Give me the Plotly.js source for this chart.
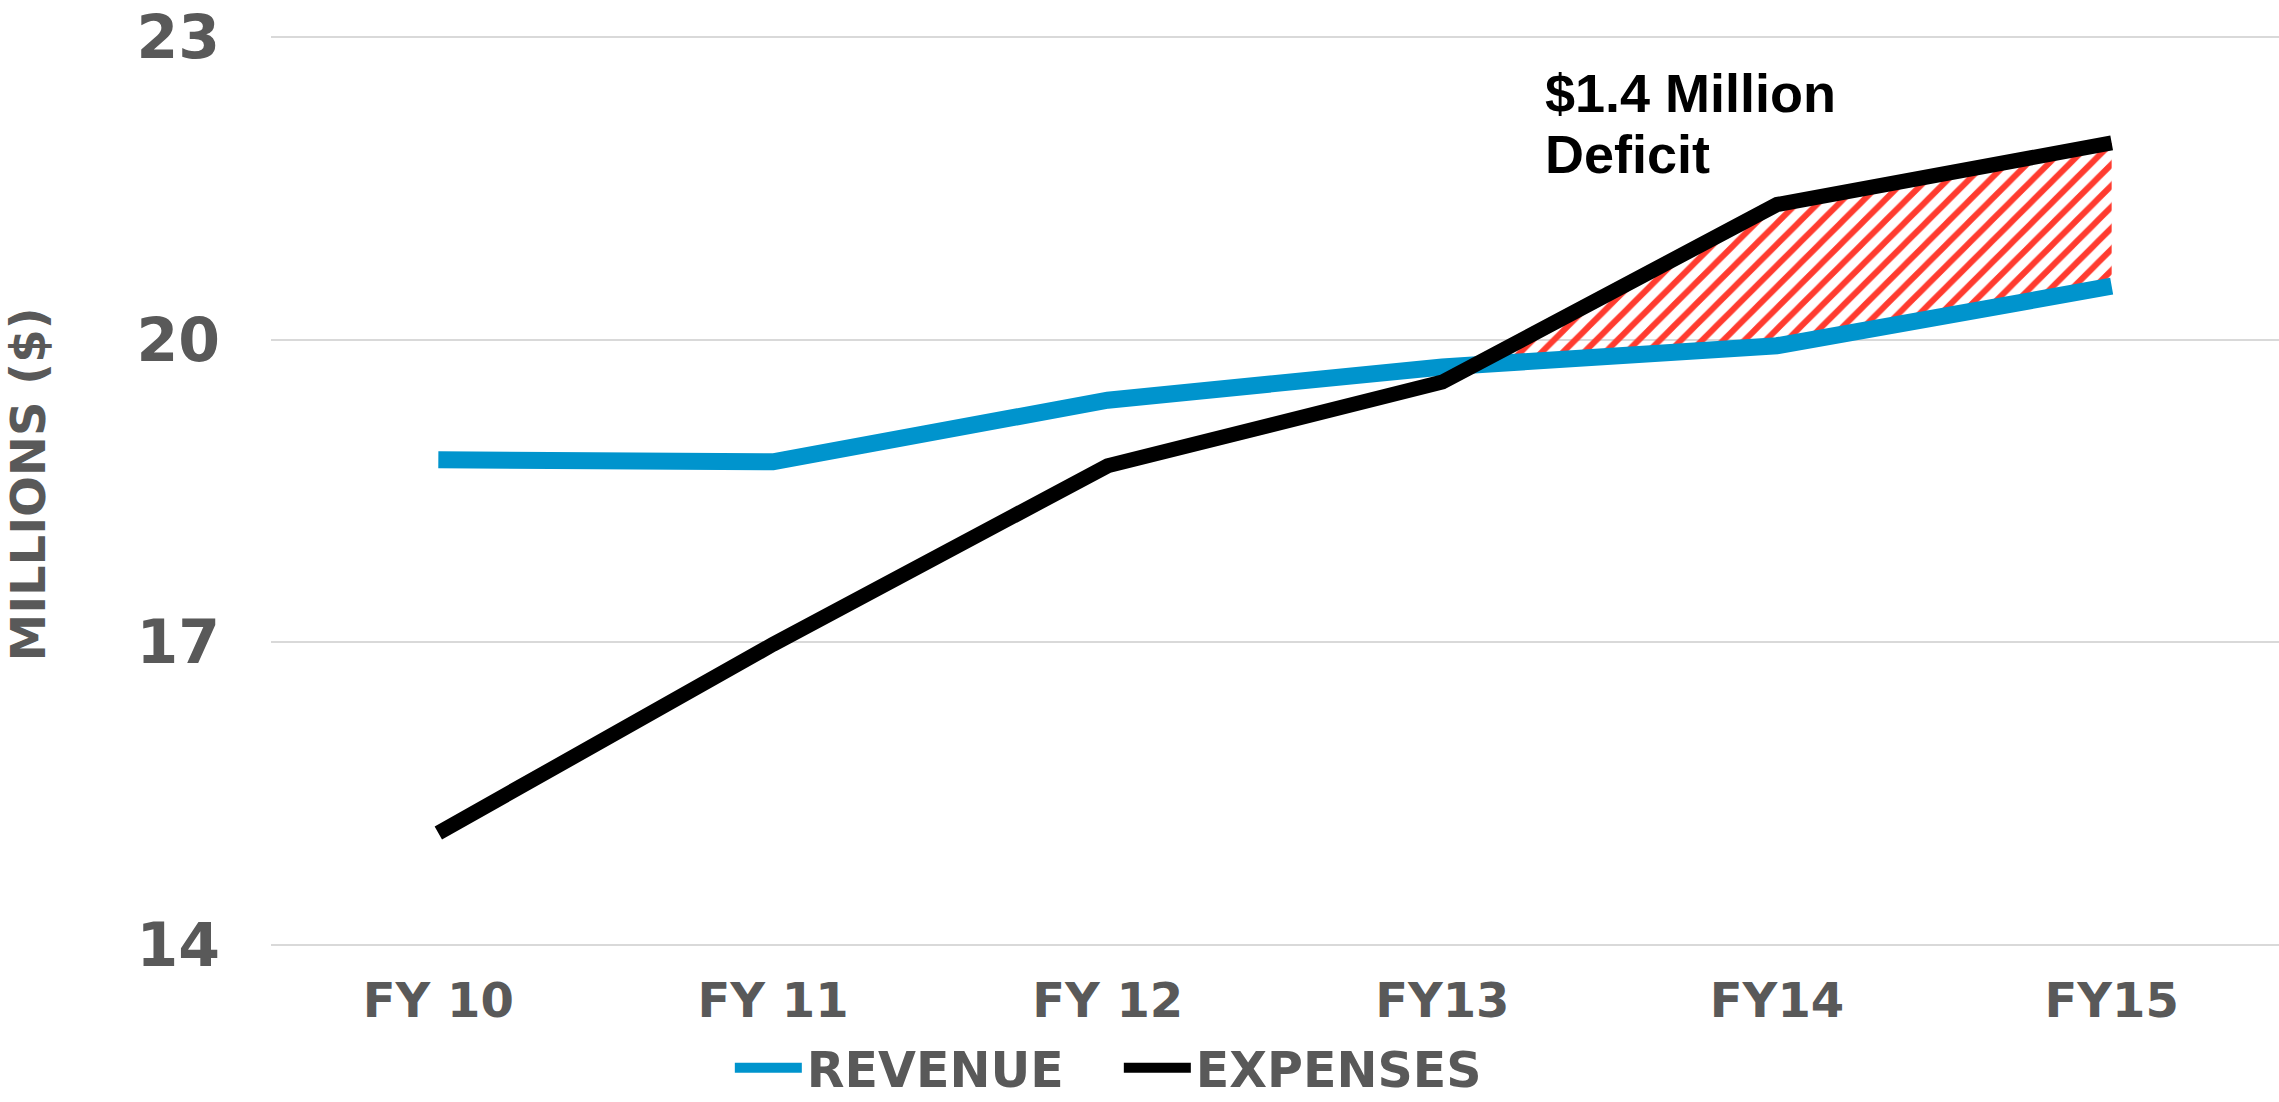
<!DOCTYPE html>
<html><head><meta charset="utf-8">
<script src="https://cdn.plot.ly/plotly-3.0.1.min.js"></script>
<style>html,body{margin:0;padding:0;background:#fff;} #chart{width:2279px;height:1102px;}</style>
</head><body><div id="chart"></div>
<script>
const categories = ["FY 10", "FY 11", "FY 12", "FY13", "FY14", "FY15"];
const revenue = [18.81, 18.79, 19.40, 19.73, 19.94, 20.53];
const expenses = [15.11, 16.98, 18.75, 19.58, 21.34, 21.95];
const yTicks = [14, 17, 20, 23];
const yTitle = "MILLIONS ($)";
const deficitLines = ["$1.4 Million", "Deficit"];

const xIdx = categories.map((_, i) => i);
// locate where expenses overtake revenue (start of the deficit band)
let ci = 0;
for (let i = 0; i < categories.length - 1; i++) {
  if (expenses[i] <= revenue[i] && expenses[i + 1] > revenue[i + 1]) ci = i;
}
const d0 = revenue[ci] - expenses[ci], d1 = revenue[ci + 1] - expenses[ci + 1];
const t = d0 / (d0 - d1);
const xc = ci + t;
const yc = revenue[ci] + t * (revenue[ci + 1] - revenue[ci]);
const fx = [xc].concat(xIdx.slice(ci + 1));
const fRev = [yc].concat(revenue.slice(ci + 1));
const fExp = [yc].concat(expenses.slice(ci + 1));

const gray = '#595959';
const fam = 'DejaVu Sans';

const traces = [
  { x: fx, y: fRev, mode: 'lines', line: { width: 0, color: 'rgba(0,0,0,0)' }, showlegend: false, hoverinfo: 'skip' },
  { x: fx, y: fExp, mode: 'lines', line: { width: 0, color: 'rgba(0,0,0,0)' }, fill: 'tonexty',
    fillcolor: 'rgba(255,255,255,0)',
    fillpattern: { shape: '/', fgcolor: '#ff3b2f', bgcolor: 'rgba(255,255,255,0)', size: 15, solidity: 0.4 },
    showlegend: false, hoverinfo: 'skip' },
  { x: xIdx, y: revenue, name: 'REVENUE', mode: 'lines', line: { color: '#0094cd', width: 17 }, hoverinfo: 'skip' },
  { x: xIdx, y: expenses, name: 'EXPENSES', mode: 'lines', line: { color: '#000000', width: 15 }, hoverinfo: 'skip' }
];

const layout = {
  width: 2279, height: 1102,
  paper_bgcolor: '#ffffff', plot_bgcolor: '#ffffff',
  margin: { l: 271, r: 0, t: 32, b: 152, autoexpand: false },
  showlegend: true,
  xaxis: {
    range: [-0.5, 5.5], tickvals: xIdx, ticktext: categories,
    showgrid: false, zeroline: false, showline: false, ticks: '', automargin: false,
    ticklabelstandoff: 18,
    tickfont: { family: fam, size: 48, color: gray, weight: 'bold' }
  },
  yaxis: {
    range: [13.95, 23.05], tickvals: yTicks, ticktext: yTicks.map(String),
    showgrid: true, gridcolor: '#d9d9d9', gridwidth: 2,
    zeroline: false, showline: false, ticks: '', automargin: false,
    ticklabelstandoff: 50,
    tickfont: { family: fam, size: 60, color: gray, weight: 'bold' }
  },
  legend: {
    orientation: 'h', traceorder: 'normal', x: 0.2285, xanchor: 'left', y: -0.1285, yanchor: 'middle',
    font: { family: fam, size: 49, color: gray, weight: 'bold' },
    itemwidth: 67, entrywidth: 307, bgcolor: 'rgba(0,0,0,0)'
  },
  annotations: [
    { text: yTitle, xref: 'paper', yref: 'paper', x: -0.121, y: 0.507, xanchor: 'center', yanchor: 'middle',
      textangle: -90, showarrow: false, font: { family: fam, size: 48, color: gray, weight: 'bold' } },
    { text: deficitLines[0], xref: 'x', yref: 'y', x: 3.3, y: 22.76, xanchor: 'left', yanchor: 'top', align: 'left',
      showarrow: false, font: { family: 'Liberation Sans', size: 54, color: '#000000', weight: 'bold' } },
    { text: deficitLines[1], xref: 'x', yref: 'y', x: 3.3, y: 22.16, xanchor: 'left', yanchor: 'top', align: 'left',
      showarrow: false, font: { family: 'Liberation Sans', size: 54, color: '#000000', weight: 'bold' } }
  ]
};

Plotly.newPlot('chart', traces, layout, { staticPlot: true, displayModeBar: false });
</script>
</body></html>
